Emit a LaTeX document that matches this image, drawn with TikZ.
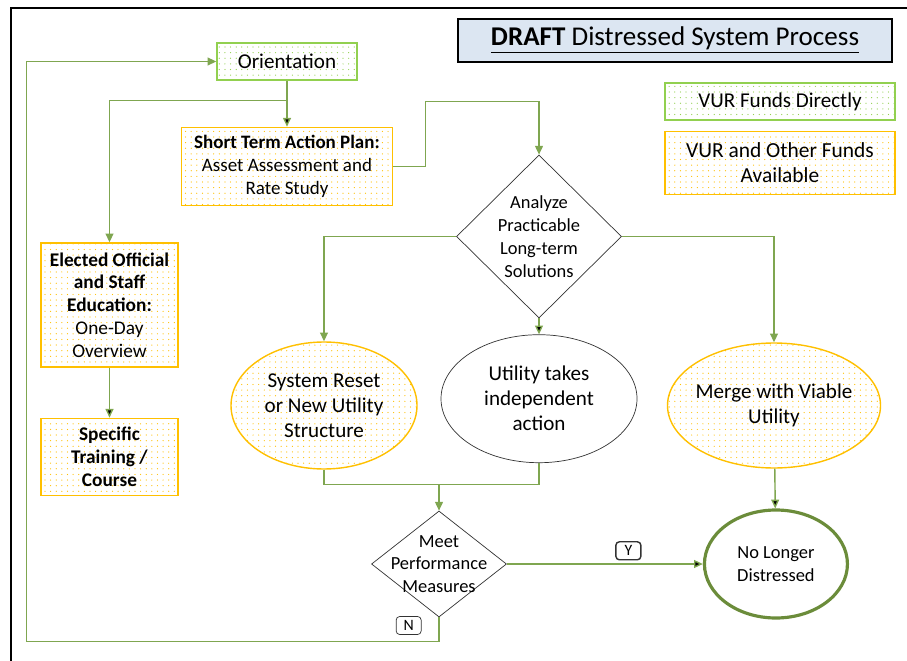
\documentclass[tikz,border=0pt]{standalone}
\usepackage{fontspec}
\setmainfont{Carlito}
\usepackage{xcolor}
\usetikzlibrary{shapes.geometric,arrows.meta,positioning,patterns.meta}
\definecolor{vurgreen}{HTML}{92D050}
\definecolor{vuryellow}{HTML}{FFC000}
\definecolor{linkgreen}{HTML}{7FA650}
\definecolor{donegreen}{HTML}{6B8C3A}
\definecolor{titleblue}{HTML}{DCE6F2}
\tikzset{%
dotfill/.style={postaction={pattern={Dots[distance=3.2pt,radius=0.35pt]}, pattern color=#1}},
greenbox/.style={rectangle, draw=vurgreen, line width=0.8pt, fill=white, dotfill=vurgreen, align=center, font=\fontsize{11}{13}\selectfont},
yellowbox/.style={rectangle, draw=vuryellow, line width=0.8pt, fill=white, dotfill=vuryellow, align=center, font=\fontsize{11}{13}\selectfont},
yellowoval/.style={ellipse, draw=vuryellow, line width=0.8pt, fill=white, dotfill=vuryellow, align=center, inner sep=0pt, font=\fontsize{12}{14.2}\selectfont},
plainoval/.style={ellipse, draw=black!80, fill=white, align=center, inner sep=0pt, font=\fontsize{12}{14.2}\selectfont},
doneoval/.style={ellipse, draw=donegreen, line width=1.8pt, fill=white, align=center, inner sep=0pt, font=\fontsize{10.5}{13}\selectfont},
decision/.style={diamond, draw=black!80, fill=white, inner sep=0pt},
titlebox/.style={rectangle, draw=black, line width=1.2pt, fill=titleblue, font=\fontsize{15.4}{18}\selectfont},
conn/.style={draw=linkgreen, line width=0.8pt, -{Triangle[length=5pt,width=4.5pt]}},
link/.style={draw=linkgreen, line width=0.8pt},
tag/.style={rectangle, rounded corners=2pt, draw=black!80, fill=white, font=\fontsize{9}{10}\selectfont, minimum width=0.5cm, minimum height=0.36cm, inner sep=1pt}
}
\begin{document}
\begin{tikzpicture}
	\useasboundingbox (0,0) rectangle (18.14,-13.2);
	\draw[line width=1.3pt] (0.22,-13.4) -- (0.22,-0.16) -- (18.3,-0.16);

	\node[titlebox, minimum width=8.68cm, minimum height=0.86cm] (title) at (13.5,-0.81) {\underline{\textbf{DRAFT} Distressed System Process}};
	\node[greenbox, minimum width=4.6cm, minimum height=0.74cm, font=\fontsize{12}{14.2}\selectfont] (vurdirect) at (15.6,-2.03) {VUR Funds Directly};
	\node[yellowbox, minimum width=4.6cm, minimum height=1.26cm, font=\fontsize{12.2}{14.2}\selectfont] (vurother) [below=0.2cm of vurdirect] {VUR and Other Funds\\Available};

	\node[greenbox, minimum width=2.8cm, minimum height=0.74cm, font=\fontsize{12}{14}\selectfont] (orient) at (5.74,-1.23) {Orientation};
	\node[yellowbox, minimum width=4.22cm, minimum height=1.56cm, font=\fontsize{10.8}{13}\selectfont] (plan) [below=0.92cm of orient] {\textbf{Short Term Action Plan:}\\Asset Assessment and\\Rate Study};
	\node[yellowbox, minimum width=2.74cm, minimum height=2.48cm] (educ) at (2.19,-6.10) {\textbf{Elected Official}\\\textbf{and Staff}\\\textbf{Education:}\\One-Day\\Overview};
	\node[yellowbox, minimum width=2.74cm, minimum height=1.54cm] (train) [below=1.0cm of educ] {\textbf{Specific}\\\textbf{Training /}\\\textbf{Course}};

	\node[decision, minimum width=3.3cm, minimum height=3.26cm, label={[align=center, font=\fontsize{10.5}{13}\selectfont]center:Analyze\\Practicable\\Long-term\\Solutions}] (analyze) at (10.78,-4.73) {};
	\node[plainoval, minimum width=3.92cm, minimum height=2.56cm] (indep) [below=0.32cm of analyze] {Utility takes\\independent\\action};
	\node[yellowoval, minimum width=3.72cm, minimum height=2.54cm] (reset) at (6.48,-8.11) {System Reset\\or New Utility\\Structure};
	\node[yellowoval, inner xsep=-5pt, minimum width=4.26cm, minimum height=2.5cm] (merge) at (15.48,-8.11) {Merge with Viable\\Utility};

	\node[decision, minimum width=2.7cm, minimum height=2.12cm, label={[align=center, font=\fontsize{10.5}{13}\selectfont]center:Meet\\Performance\\Measures}] (meet) at (8.78,-11.28) {};
	\node[doneoval, minimum width=2.86cm, minimum height=2.16cm] (done) [right=3.92cm of meet] {No Longer\\Distressed};

	\path[conn] (orient) edge (plan);
	\draw[conn] (orient.south) -- ++(0,-0.4) -| (educ.north);
	\path[conn] (educ) edge (train);
	\draw[conn] (plan.east) -- ++(0.64,0) |- ([yshift=1.06cm]analyze.north) -- (analyze.north);
	\draw[conn] (analyze.west) -| (reset.north);
	\draw[conn] (analyze.east) -| (merge.north);
	\path[conn] (analyze) edge (indep);

	\coordinate (join) at ([yshift=0.52cm]meet.north);
	\draw[link] (reset.south) |- (join) -| (indep.south);
	\draw[conn] (join) -- (meet.north);
	\path[conn] (merge) edge (done);
	\path[conn] (meet) edge node[tag, pos=0.62, above=2pt] (yesmark) {Y} (done);

	\coordinate (back) at ([yshift=-0.48cm]meet.south);
	\draw[conn] (meet.south) -- (back) -| ([xshift=-3.8cm]orient.west) -- (orient.west);
	\node[tag, above left=0.13cm and 0.35cm of back] (nomark) {N};
\end{tikzpicture}
\end{document}
